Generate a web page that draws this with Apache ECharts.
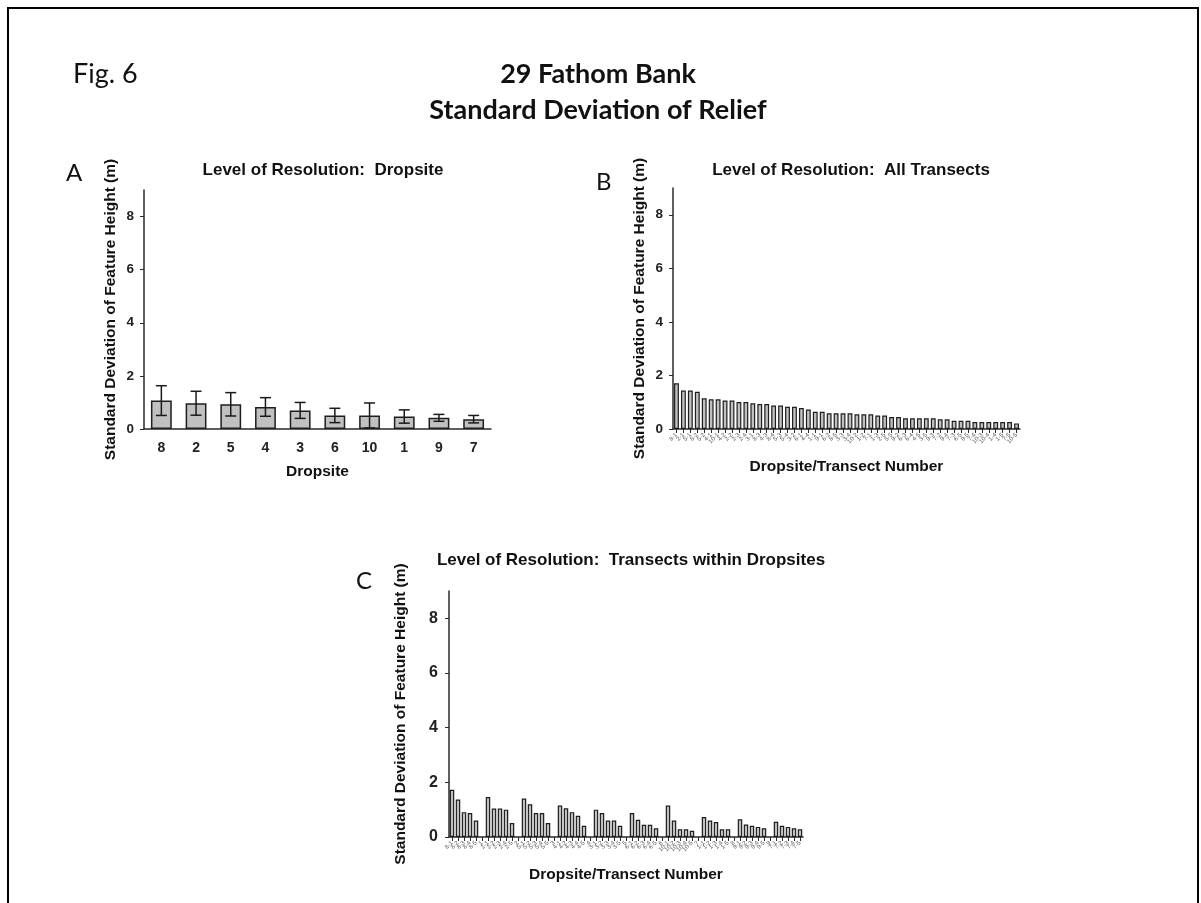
<!DOCTYPE html>
<html><head><meta charset="utf-8">
<script src="https://cdn.jsdelivr.net/npm/echarts@6/dist/echarts.min.js"></script>
<style>html,body{margin:0;padding:0;background:#fff}#c{width:1201px;height:903px}</style>
</head><body><div id="c"></div>
<script>
// Panel A: dropsite means with error bars
const aCats = ['8','2','5','4','3','6','10','1','9','7'];
const aMeans = [1.07,0.97,0.93,0.83,0.70,0.51,0.51,0.47,0.42,0.37];
const aErr = [0.56,0.45,0.44,0.35,0.30,0.27,0.47,0.25,0.13,0.14];

// Panel B: all transects, sorted
const bLabels = ['8-1','2-1','5-1','8-2','5-2','4-1','10-1','4-2','2-2','2-3','2-4','3-1','8-3','4-3','8-4','5-3','5-4','3-2','6-1','4-4','1-1','9-1','6-2','8-5','3-3','3-4','10-2','1-2','7-1','1-3','2-5','5-5','9-2','6-3','6-4','4-5','3-5','9-3','7-2','9-4','7-3','6-5','9-5','7-4','10-3','10-4','1-4','1-5','7-5','10-5'];
const bValues = [1.71,1.44,1.44,1.39,1.15,1.11,1.11,1.06,1.06,1.01,1.01,0.96,0.93,0.93,0.88,0.88,0.83,0.83,0.78,0.73,0.64,0.64,0.59,0.59,0.59,0.59,0.55,0.55,0.55,0.50,0.50,0.45,0.45,0.40,0.40,0.40,0.40,0.40,0.36,0.36,0.31,0.31,0.31,0.26,0.26,0.26,0.26,0.26,0.26,0.21];

// Panel C: transects within dropsites (groups follow aCats order)
const cGroupLabels = [
  ['8-1','8-2','8-3','8-4','8-5'],['2-1','2-2','2-3','2-4','2-5'],['5-1','5-2','5-3','5-4','5-5'],
  ['4-1','4-2','4-3','4-4','4-5'],['3-1','3-2','3-3','3-4','3-5'],['6-1','6-2','6-3','6-4','6-5'],
  ['10-1','10-2','10-3','10-4','10-5'],['1-1','1-2','1-3','1-4','1-5'],['9-1','9-2','9-3','9-4','9-5'],
  ['7-1','7-2','7-3','7-4','7-5']];
const cGroupValues = [
  [1.73,1.37,0.91,0.88,0.60],[1.46,1.04,1.04,1.00,0.51],[1.41,1.20,0.88,0.88,0.51],
  [1.15,1.05,0.91,0.78,0.41],[1.00,0.88,0.60,0.60,0.41],[0.88,0.63,0.45,0.45,0.32],
  [1.15,0.60,0.28,0.28,0.23],[0.73,0.60,0.55,0.28,0.28],[0.65,0.46,0.41,0.37,0.32],
  [0.56,0.41,0.37,0.32,0.28]];
const yTicks = [0,2,4,6,8];

const cCats = [], cVals = [];
cGroupLabels.forEach((g,i)=>{
  if(i>0){cCats.push(' '+i); cVals.push('-');}
  g.forEach((l,j)=>{cCats.push(l); cVals.push(cGroupValues[i][j]);});
});

const AX = '#2a2a2a';
const FF = 'Liberation Sans, Arial, sans-serif';
const HF = 'Lato, "Open Sans", sans-serif';
function yAxis(idx, gap, labelSize, margin){
  return {type:'value', gridIndex:idx, min:0, max:9, interval:2,
    name:'Standard Deviation of Feature Height (m)', nameLocation:'middle', nameGap:gap,
    nameTextStyle:{fontFamily:FF,fontWeight:'bold',fontSize:15.5,color:'#111'},
    axisLine:{show:true,lineStyle:{color:AX,width:1.5}},
    axisTick:{show:true,length:4,lineStyle:{color:AX,width:1},customValues:yTicks},
    axisLabel:{fontFamily:FF,fontWeight:'bold',fontSize:labelSize,color:'#222',margin:margin,customValues:yTicks},
    splitLine:{show:false}};
}
const barStyle = {color:'#c0c0c0', borderColor:'#1e1e1e', borderWidth:1.2};
const xName = {fontFamily:FF,fontWeight:'bold',fontSize:15.5,color:'#111'};
const smallLabel = {fontFamily:FF,fontSize:6,color:'#555',rotate:45,margin:5,interval:0};

const option = {
  animation:false,
  backgroundColor:'#fff',
  graphic:[{type:'rect',shape:{x:8,y:8,width:1190,height:905},style:{fill:'none',stroke:'#000',lineWidth:2}}],
  title:[
    {text:'Fig. 6',left:68,top:56,textStyle:{fontFamily:HF,fontWeight:'normal',fontSize:27,color:'#111'}},
    {text:'29 Fathom Bank',left:593,top:56,textAlign:'center',textStyle:{fontFamily:HF,fontWeight:'bold',fontSize:27,color:'#111'}},
    {text:'Standard Deviation of Relief',left:593,top:92,textAlign:'center',textStyle:{fontFamily:HF,fontWeight:'bold',fontSize:27,color:'#111'}},
    {text:'A',left:61,top:156,textStyle:{fontFamily:HF,fontWeight:'normal',fontSize:24,color:'#111'}},
    {text:'B',left:591,top:165,textStyle:{fontFamily:HF,fontWeight:'normal',fontSize:24,color:'#111'}},
    {text:'C',left:351,top:564,textStyle:{fontFamily:HF,fontWeight:'normal',fontSize:24,color:'#111'}},
    {text:'Level of Resolution:  Dropsite',left:318,top:157,textAlign:'center',textStyle:{fontFamily:FF,fontWeight:'bold',fontSize:17,color:'#111'}},
    {text:'Level of Resolution:  All Transects',left:846,top:157,textAlign:'center',textStyle:{fontFamily:FF,fontWeight:'bold',fontSize:17,color:'#111'}},
    {text:'Level of Resolution:  Transects within Dropsites',left:626,top:547,textAlign:'center',textStyle:{fontFamily:FF,fontWeight:'bold',fontSize:17,color:'#111'}}
  ],
  grid:[
    {left:144,top:190,width:347,height:239},
    {left:673,top:188,width:347,height:241},
    {left:449,top:591,width:354,height:246}
  ],
  xAxis:[
    {type:'category',gridIndex:0,data:aCats,name:'Dropsite',nameLocation:'middle',nameGap:35,
     nameTextStyle:xName,
     axisLine:{lineStyle:{color:AX,width:1.5}},axisTick:{show:false},
     axisLabel:{fontFamily:FF,fontWeight:'bold',fontSize:14,color:'#222',margin:12,interval:0}},
    {type:'category',gridIndex:1,data:bLabels,name:'Dropsite/Transect Number',nameLocation:'middle',nameGap:30,
     nameTextStyle:xName,
     axisLine:{lineStyle:{color:AX,width:1.5}},axisTick:{show:true,alignWithLabel:true,interval:0,length:4,lineStyle:{color:AX}},
     axisLabel:smallLabel},
    {type:'category',gridIndex:2,data:cCats,name:'Dropsite/Transect Number',nameLocation:'middle',nameGap:30,
     nameTextStyle:xName,
     axisLine:{lineStyle:{color:AX,width:1.5}},axisTick:{show:true,alignWithLabel:true,interval:0,length:4,lineStyle:{color:AX}},
     axisLabel:smallLabel}
  ],
  yAxis:[yAxis(0,25,13.5,10),yAxis(1,25,13.5,10),yAxis(2,40,16,11)],
  series:[
    {type:'bar',xAxisIndex:0,yAxisIndex:0,data:aMeans,barCategoryGap:'40%',itemStyle:{color:'#c0c0c0',borderColor:'#1e1e1e',borderWidth:1.5}},
    {type:'custom',xAxisIndex:0,yAxisIndex:0,data:aMeans.map((m,i)=>[i,m-aErr[i],m+aErr[i]]),
     renderItem:function(params,api){
       const lo=api.coord([api.value(0),api.value(1)]);
       const hi=api.coord([api.value(0),api.value(2)]);
       const w=5.5;
       const st={stroke:'#1a1a1a',lineWidth:1.5};
       return {type:'group',children:[
         {type:'line',shape:{x1:lo[0],y1:lo[1],x2:hi[0],y2:hi[1]},style:st},
         {type:'line',shape:{x1:lo[0]-w,y1:lo[1],x2:lo[0]+w,y2:lo[1]},style:st},
         {type:'line',shape:{x1:hi[0]-w,y1:hi[1],x2:hi[0]+w,y2:hi[1]},style:st}]};
     },z:5},
    {type:'bar',xAxisIndex:1,yAxisIndex:1,data:bValues,barCategoryGap:'30%',itemStyle:barStyle},
    {type:'bar',xAxisIndex:2,yAxisIndex:2,data:cVals,barCategoryGap:'25%',itemStyle:barStyle}
  ]
};
const chart = echarts.init(document.getElementById('c'),null,{renderer:'canvas'});
chart.setOption(option);
</script></body></html>
